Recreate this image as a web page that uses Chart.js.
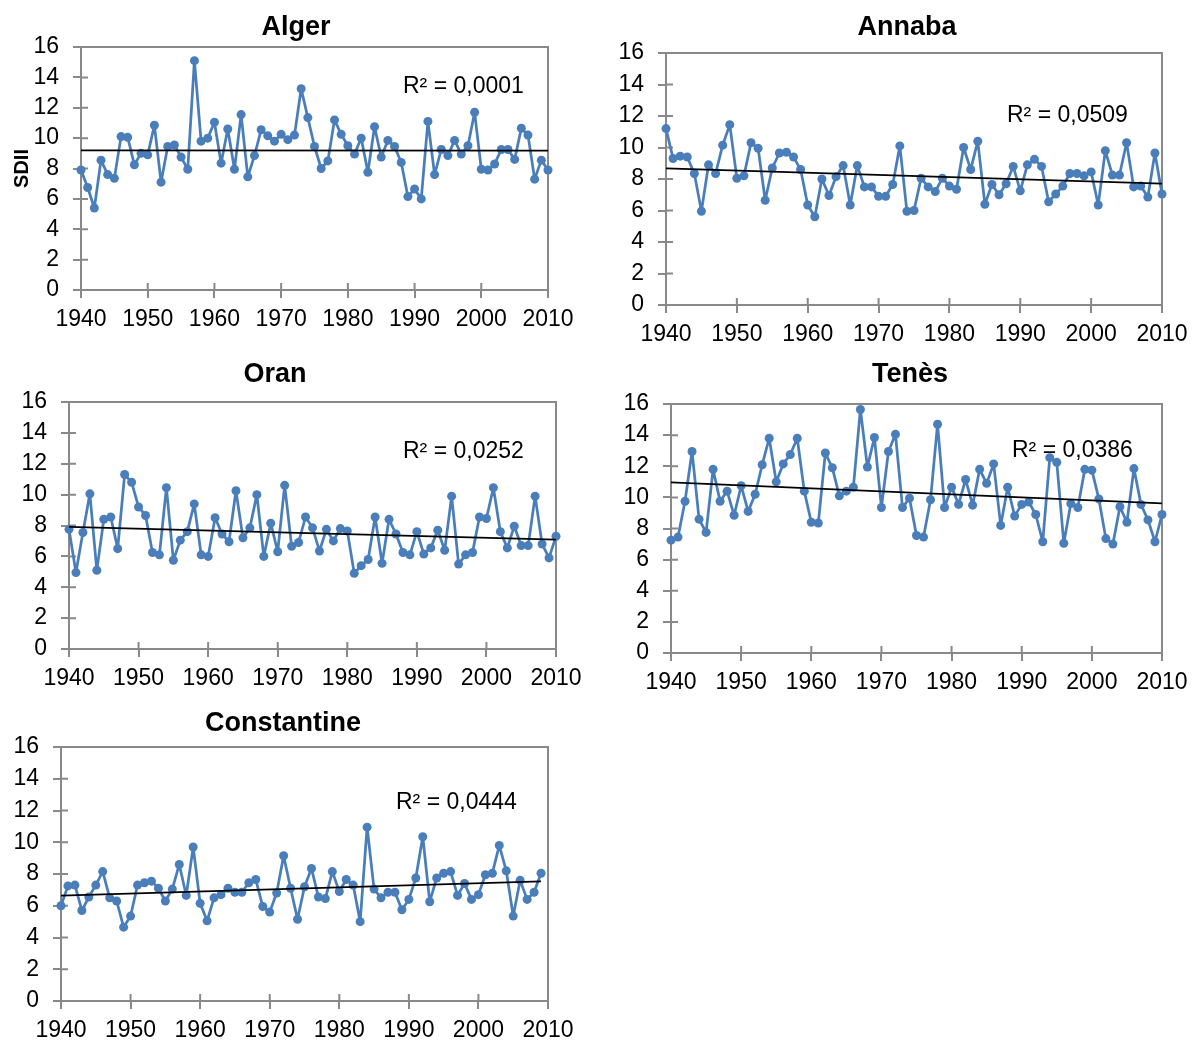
<!DOCTYPE html>
<html>
<head>
<meta charset="utf-8">
<script src="https://cdn.jsdelivr.net/npm/chart.js@4.4.0/dist/chart.umd.min.js"></script>
<style>
  html, body { margin: 0; padding: 0; background: #fff; overflow: hidden; }
  body { width: 1196px; height: 1041px; position: relative; }
  canvas { position: absolute; }
</style>
</head>
<body>
<canvas id="c0"></canvas>
<canvas id="c1"></canvas>
<canvas id="c2"></canvas>
<canvas id="c3"></canvas>
<canvas id="c4"></canvas>
<script>
// --- Données SDII annuelles (1940 -> 2010) ---
const startYear = 1940;
const stations = ['Alger', 'Annaba', 'Oran', 'Tenès', 'Constantine'];
const r2Labels = ['R² = 0,0001', 'R² = 0,0509', 'R² = 0,0252', 'R² = 0,0386', 'R² = 0,0444'];

const alger = [
  7.9, 6.75, 5.4, 8.55, 7.6, 7.35, 10.1, 10.05, 8.25, 9.0,
  8.9, 10.85, 7.1, 9.45, 9.55, 8.75, 7.95, 15.1, 9.8, 10.0,
  11.05, 8.35, 10.6, 7.95, 11.55, 7.45, 8.85, 10.55, 10.15, 9.8,
  10.25, 9.9, 10.2, 13.25, 11.35, 9.45, 8.0, 8.5, 11.2, 10.25,
  9.5, 8.95, 10.0, 7.75, 10.75, 8.75, 9.85, 9.45, 8.4, 6.15,
  6.65, 6.0, 11.1, 7.6, 9.25, 8.85, 9.85, 8.95, 9.5, 11.7,
  7.95, 7.9, 8.3, 9.25, 9.25, 8.6, 10.65, 10.2, 7.3, 8.55,
  7.9
];
const annaba = [
  11.2, 9.3, 9.45, 9.4, 8.35, 5.95, 8.9, 8.35, 10.15, 11.45,
  8.05, 8.2, 10.3, 9.95, 6.65, 8.7, 9.65, 9.7, 9.4, 8.6,
  6.35, 5.6, 8.0, 6.95, 8.15, 8.85, 6.35, 8.85, 7.5, 7.5,
  6.9, 6.9, 7.65, 10.1, 5.95, 6.0, 8.05, 7.5, 7.2, 8.05,
  7.55, 7.35, 10.0, 8.6, 10.4, 6.4, 7.65, 7.0, 7.7, 8.8,
  7.25, 8.9, 9.25, 8.8, 6.55, 7.05, 7.55, 8.35, 8.35, 8.2,
  8.45, 6.35, 9.8, 8.25, 8.25, 10.3, 7.5, 7.55, 6.85, 9.65,
  7.05
];
const oran = [
  7.75, 4.95, 7.55, 10.05, 5.1, 8.4, 8.55, 6.5, 11.3, 10.8,
  9.2, 8.65, 6.25, 6.1, 10.45, 5.75, 7.05, 7.6, 9.4, 6.1,
  6.0, 8.5, 7.45, 6.95, 10.25, 7.2, 7.85, 10.0, 6.0, 8.15,
  6.3, 10.6, 6.65, 6.9, 8.55, 7.85, 6.35, 7.75, 7.0, 7.8,
  7.65, 4.9, 5.4, 5.8, 8.55, 5.55, 8.4, 7.45, 6.25, 6.1,
  7.6, 6.15, 6.55, 7.7, 6.4, 9.9, 5.5, 6.1, 6.25, 8.55,
  8.45, 10.45, 7.6, 6.55, 7.95, 6.7, 6.7, 9.9, 6.8, 5.9,
  7.3
];
const tenes = [
  7.25, 7.45, 9.75, 12.95, 8.6, 7.75, 11.8, 9.75, 10.4, 8.85,
  10.75, 9.1, 10.2, 12.1, 13.8, 11.0, 12.15, 12.75, 13.8, 10.4,
  8.4, 8.35, 12.85, 11.9, 10.1, 10.4, 10.65, 15.65, 11.95, 13.85,
  9.35, 12.95, 14.05, 9.35, 9.95, 7.55, 7.45, 9.85, 14.7, 9.35,
  10.65, 9.55, 11.15, 9.5, 11.8, 10.9, 12.15, 8.2, 10.65, 8.8,
  9.55, 9.7, 8.9, 7.15, 12.55, 12.25, 7.05, 9.6, 9.35, 11.8,
  11.75, 9.9, 7.35, 7.0, 9.4, 8.4, 11.85, 9.55, 8.55, 7.15,
  8.9
];
const constantine = [
  6.0, 7.25, 7.3, 5.7, 6.55, 7.3, 8.15, 6.5, 6.3, 4.65,
  5.35, 7.3, 7.45, 7.55, 7.1, 6.3, 7.05, 8.6, 6.65, 9.7,
  6.15, 5.05, 6.5, 6.7, 7.1, 6.85, 6.85, 7.45, 7.65, 5.95,
  5.6, 6.8, 9.15, 7.1, 5.15, 7.2, 8.35, 6.55, 6.45, 8.15,
  6.9, 7.65, 7.3, 5.0, 10.95, 7.05, 6.5, 6.85, 6.85, 5.75,
  6.4, 7.75, 10.35, 6.25, 7.75, 8.05, 8.15, 6.65, 7.4, 6.4,
  6.7, 7.95, 8.05, 9.8, 8.2, 5.35, 7.6, 6.4, 6.85, 8.05
];
const series = [alger, annaba, oran, tenes, constantine];

// --- Mise en page : canvas, zone de tracé, titre et R² (coordonnées page) ---
const panels = [
  { canvas: { x: 0,   y: 0,   w: 600 }, plot: { L: 81,  T: 47,  R: 548,  B: 290 },  xh: 45, title: [296, 35],   r2: [403, 93],   yTitle: 'SDII' },
  { canvas: { x: 600, y: 0,   w: 596 }, plot: { L: 666, T: 53,  R: 1162, B: 305 },  xh: 45, title: [907, 35],   r2: [1007, 122] },
  { canvas: { x: 0,   y: 350, w: 600 }, plot: { L: 69,  T: 402, R: 556,  B: 649 },  xh: 45, title: [275, 382],  r2: [403, 458] },
  { canvas: { x: 600, y: 350, w: 596 }, plot: { L: 671, T: 404, R: 1162, B: 653 },  xh: 45, title: [910, 382],  r2: [1012, 457] },
  { canvas: { x: 0,   y: 700, w: 600 }, plot: { L: 61,  T: 747, R: 548,  B: 1001 }, xh: 40, title: [283, 731],  r2: [396, 809] }
];

const FONT = '"Liberation Sans", Arial, sans-serif';
const axisGrey = '#898989';
const lineBlue = '#4a7ebb';

// Droite de tendance (moindres carrés), comme une courbe de tendance linéaire
function linearFit(pts) {
  const n = pts.length;
  let sx = 0, sy = 0, sxx = 0, sxy = 0;
  pts.forEach(p => { sx += p.x; sy += p.y; sxx += p.x * p.x; sxy += p.x * p.y; });
  const slope = (n * sxy - sx * sy) / (n * sxx - sx * sx);
  const intercept = (sy - slope * sx) / n;
  return x => intercept + slope * x;
}

// Cadre gris, demi-graduations intérieures, titre et R²
const panelDecor = {
  id: 'panelDecor',
  beforeDatasetsDraw(chart, args, opts) {
    const { ctx, chartArea: a } = chart;
    const xs = chart.scales.x, ys = chart.scales.y;
    ctx.save();
    ctx.strokeStyle = axisGrey;
    ctx.lineWidth = 2;
    ctx.beginPath();
    ctx.moveTo(a.left, a.top);
    ctx.lineTo(a.right, a.top);
    ctx.lineTo(a.right, a.bottom);
    xs.ticks.forEach(t => {
      const px = xs.getPixelForValue(t.value);
      ctx.moveTo(px, a.bottom);
      ctx.lineTo(px, a.bottom - 7);
    });
    ys.ticks.forEach(t => {
      const py = ys.getPixelForValue(t.value);
      ctx.moveTo(a.left, py);
      ctx.lineTo(a.left + 7, py);
    });
    ctx.stroke();

    ctx.fillStyle = '#000';
    ctx.textBaseline = 'alphabetic';
    ctx.font = '23px ' + FONT;
    ctx.textAlign = 'left';
    ctx.fillText(opts.r2, opts.r2x, opts.r2y);

    ctx.font = 'bold 27px ' + FONT;
    ctx.textAlign = 'center';
    ctx.fillText(opts.title, opts.tx, opts.ty);
    ctx.restore();
  }
};

panels.forEach((p, i) => {
  const cv = document.getElementById('c' + i);
  const h = p.plot.B - p.canvas.y + p.xh;
  cv.width = p.canvas.w;
  cv.height = h;
  cv.style.left = p.canvas.x + 'px';
  cv.style.top = p.canvas.y + 'px';

  const pts = series[i].map((v, k) => ({ x: startYear + k, y: v }));
  const fit = linearFit(pts);
  const x0 = pts[0].x, x1 = pts[pts.length - 1].x;

  new Chart(cv, {
    type: 'line',
    data: {
      datasets: [
        {
          label: 'Linéaire',
          data: [{ x: x0, y: fit(x0) }, { x: x1, y: fit(x1) }],
          borderColor: '#000',
          borderWidth: 1.75,
          pointRadius: 0,
          clip: false
        },
        {
          label: stations[i],
          data: pts,
          borderColor: lineBlue,
          backgroundColor: lineBlue,
          borderWidth: 2.75,
          borderJoinStyle: 'round',
          borderCapStyle: 'round',
          pointRadius: 4.5,
          pointBorderWidth: 0,
          tension: 0,
          clip: false
        }
      ]
    },
    options: {
      responsive: false,
      animation: false,
      events: [],
      layout: {
        padding: {
          top: p.plot.T - p.canvas.y,
          right: p.canvas.x + p.canvas.w - p.plot.R,
          left: 0,
          bottom: 0
        }
      },
      plugins: {
        legend: { display: false },
        tooltip: { enabled: false },
        panelDecor: {
          title: stations[i],
          tx: p.title[0] - p.canvas.x,
          ty: p.title[1] - p.canvas.y,
          r2: r2Labels[i],
          r2x: p.r2[0] - p.canvas.x,
          r2y: p.r2[1] - p.canvas.y
        }
      },
      scales: {
        x: {
          type: 'linear',
          min: 1940,
          max: 2010,
          afterFit(s) { s.height = p.xh; },
          ticks: {
            stepSize: 10,
            autoSkip: false,
            maxRotation: 0,
            padding: 8,
            color: '#000',
            font: { family: FONT, size: 23 },
            callback: v => String(v)
          },
          grid: { drawOnChartArea: false, drawTicks: true, tickLength: 8, color: axisGrey, lineWidth: 2 },
          border: { color: axisGrey, width: 2 }
        },
        y: {
          min: 0,
          max: 16,
          afterFit(s) { s.width = p.plot.L - p.canvas.x; },
          title: {
            display: !!p.yTitle,
            text: p.yTitle || '',
            color: '#000',
            font: { family: FONT, size: 20, weight: 'bold' },
            padding: { top: 10, bottom: 0 }
          },
          ticks: {
            stepSize: 2,
            autoSkip: false,
            padding: 14,
            color: '#000',
            font: { family: FONT, size: 23 }
          },
          grid: { drawOnChartArea: false, drawTicks: true, tickLength: 8, color: axisGrey, lineWidth: 2 },
          border: { color: axisGrey, width: 2 }
        }
      }
    },
    plugins: [panelDecor]
  });
});
</script>
</body>
</html>
